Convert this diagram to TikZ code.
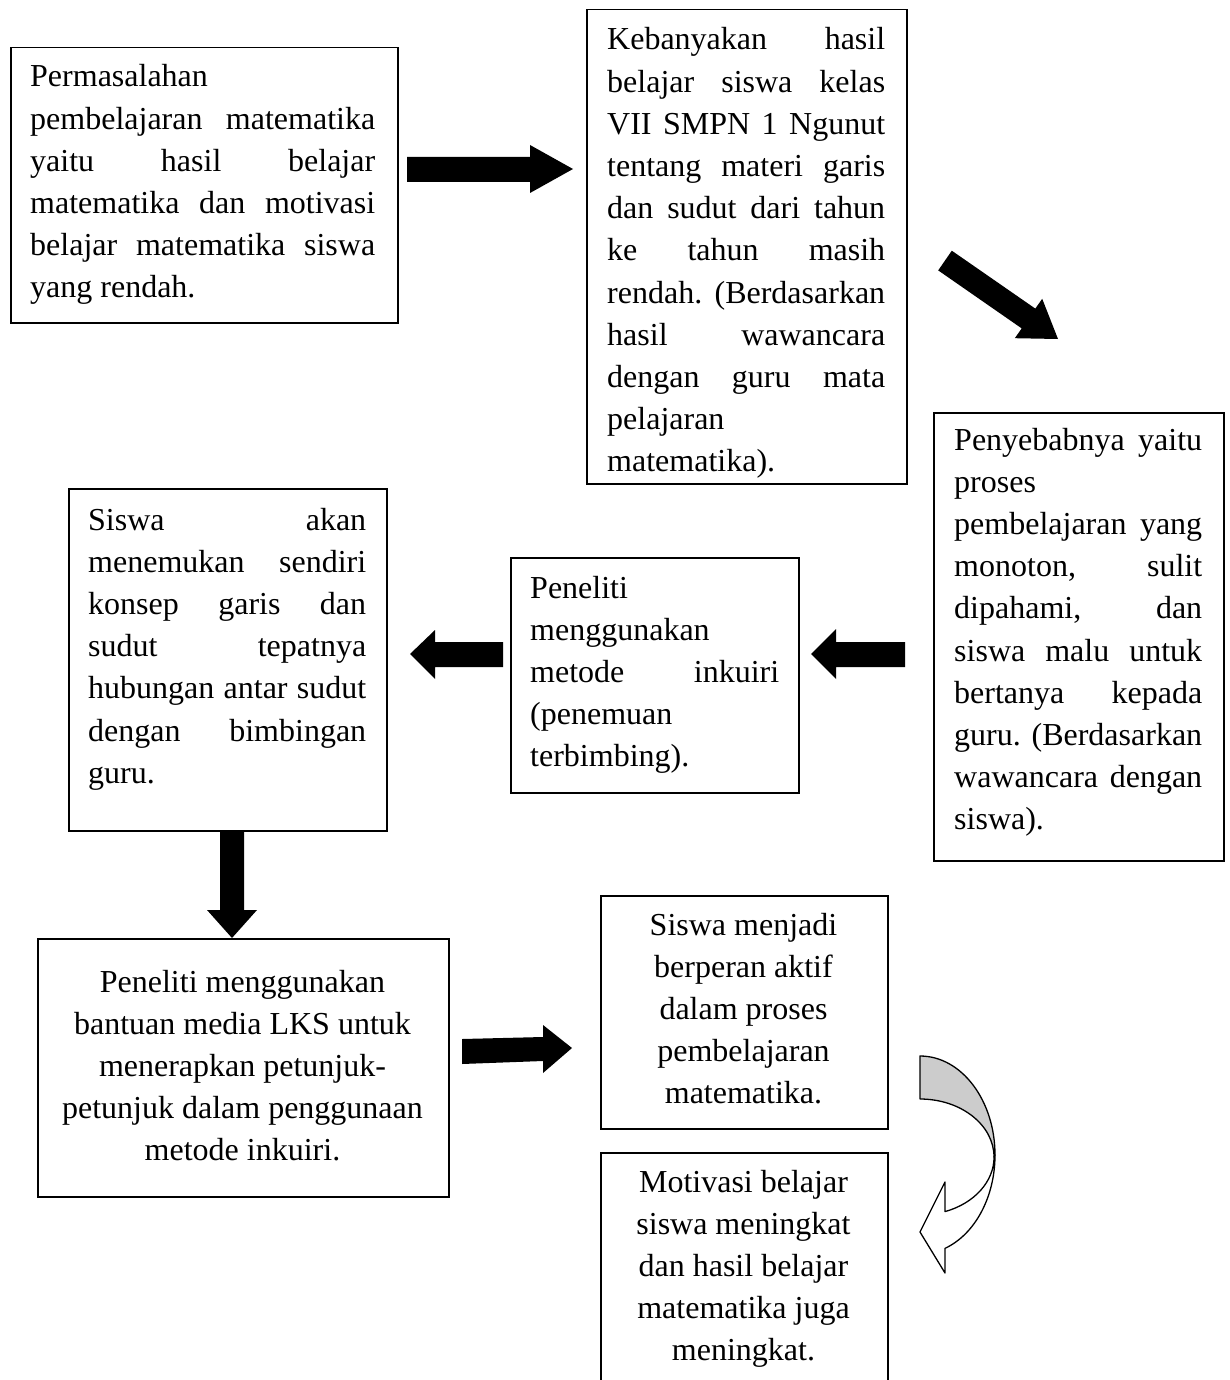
\documentclass[tikz,border=0pt]{standalone}
\usepackage{fontspec}
\setmainfont{Liberation Serif}
\hyphenpenalty=10000
\hbadness=10000
\tikzset{
  box/.style={draw=black, line width=1.5pt, inner sep=0pt, anchor=north west},
  txt/.style={inner sep=0pt, font=\fontsize{32}{42.2}\selectfont},
  blockarrow/.style={fill=black, draw=none},
  curvepart/.style={draw=black, line width=1.3pt, line join=round}
}
\begin{document}
\begin{tikzpicture}[x=1pt,y=-1pt]
\useasboundingbox (0,0) rectangle (1229,1380);
\fill[white] (0,0) rectangle (1229,1380);
\clip (0,0) rectangle (1229,1380);

% boxes
\node[box, minimum width=387pt, minimum height=275pt] (b1) at (10,47) {};
\node[box, minimum width=320pt, minimum height=474pt] (b2) at (586,9) {};
\node[box, minimum width=290pt, minimum height=448pt] (b3) at (933,412) {};
\node[box, minimum width=288pt, minimum height=235pt] (b4) at (510,557) {};
\node[box, minimum width=318pt, minimum height=342pt] (b5) at (68,488) {};
\node[box, minimum width=411pt, minimum height=258pt] (b6) at (37,938) {};
\node[box, minimum width=287pt, minimum height=233pt] (b7) at (600,895) {};
\node[box, minimum width=287pt, minimum height=250pt] (b8) at (600,1152) {};

% texts
\node[txt, anchor=base west] (t1) at (30,87) {\parbox[t]{345pt}{Permasalahan\linebreak pembelajaran matematika\linebreak yaitu hasil belajar\linebreak matematika dan motivasi\linebreak belajar matematika siswa\linebreak yang rendah.}};

\node[txt, anchor=base west] (t2) at (607,50) {\parbox[t]{278pt}{Kebanyakan hasil\linebreak belajar siswa kelas\linebreak VII SMPN 1 Ngunut\linebreak tentang materi garis\linebreak dan sudut dari tahun\linebreak ke tahun masih\linebreak rendah. (Berdasarkan\linebreak hasil wawancara\linebreak dengan guru mata\linebreak pelajaran\linebreak matematika).}};

\node[txt, anchor=base west] (t3) at (954,450) {\parbox[t]{248pt}{Penyebabnya yaitu\linebreak proses\linebreak pembelajaran yang\linebreak monoton, sulit\linebreak dipahami, dan\linebreak siswa malu untuk\linebreak bertanya kepada\linebreak guru. (Berdasarkan\linebreak wawancara dengan\linebreak siswa).}};

\node[txt, anchor=base west] (t4) at (530,598) {\parbox[t]{249pt}{Peneliti\linebreak menggunakan\linebreak metode inkuiri\linebreak (penemuan\linebreak terbimbing).}};

\node[txt, anchor=base west] (t5) at (88,530) {\parbox[t]{278pt}{Siswa akan\linebreak menemukan sendiri\linebreak konsep garis dan\linebreak sudut tepatnya\linebreak hubungan antar sudut\linebreak dengan bimbingan\linebreak guru.}};

\node[txt, anchor=base] (t6) at (242.5,992) {\parbox[t]{390pt}{\centering Peneliti menggunakan\\ bantuan media LKS untuk\\ menerapkan petunjuk-\\ petunjuk dalam penggunaan\\ metode inkuiri.}};

\node[txt, anchor=base] (t7) at (743.5,935) {\parbox[t]{270pt}{\centering Siswa menjadi\\ berperan aktif\\ dalam proses\\ pembelajaran\\ matematika.}};

\node[txt, anchor=base] (t8) at (743.5,1192) {\parbox[t]{270pt}{\centering Motivasi belajar\\ siswa meningkat\\ dan hasil belajar\\ matematika juga\\ meningkat.}};

% block arrows
\fill[blockarrow] (407,157) -- (530,157) -- (530,145) -- (573,169) -- (530,193) -- (530,182) -- (407,182) -- cycle;
\fill[blockarrow] (938.2,270.4) -- (951.8,250.7) -- (1035.3,308.6) -- (1042.2,298.8) -- (1058,339) -- (1014.8,338.2) -- (1021.7,328.4) -- cycle;
\fill[blockarrow] (905,642) -- (836,642) -- (836,629) -- (811,654) -- (836,679) -- (836,667) -- (905,667) -- cycle;
\fill[blockarrow] (503,642) -- (435,642) -- (435,630) -- (410,654) -- (435,679) -- (435,667) -- (503,667) -- cycle;
\fill[blockarrow] (220,830) -- (220,910) -- (207,910) -- (232,938) -- (257,910) -- (244,910) -- (244,830) -- cycle;
\fill[blockarrow] (462,1039) -- (543,1037) -- (543,1025) -- (572,1048) -- (543,1073) -- (543,1061) -- (462,1064) -- cycle;

% curved arrow
\path[curvepart, fill=gray!40] (920,1056) arc[start angle=-90, end angle=0, x radius=75, y radius=99] -- (994,1157) arc[start angle=0, end angle=-90, x radius=74, y radius=58] -- cycle;
\path[curvepart, fill=white] (995,1155) arc[start angle=0, end angle=70.5, x radius=75, y radius=99] -- (945,1273) -- (920,1232) -- (945,1182) -- (945,1211.6) arc[start angle=70.3, end angle=0, x radius=74, y radius=58] -- cycle;
\end{tikzpicture}
\end{document}
